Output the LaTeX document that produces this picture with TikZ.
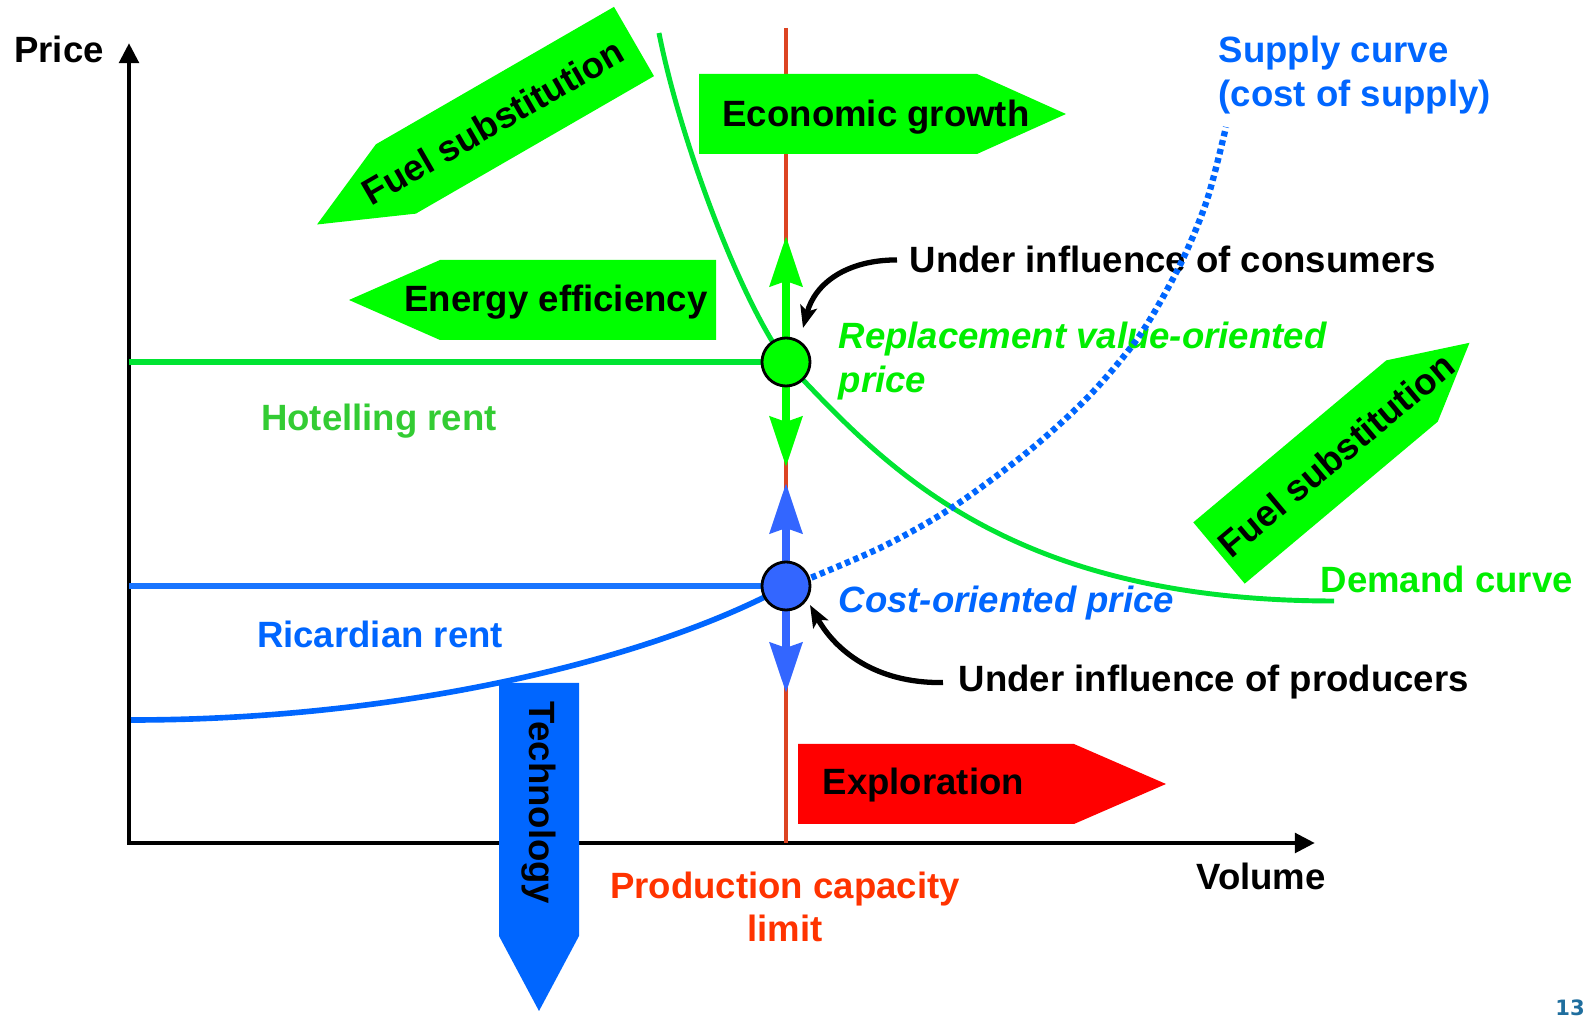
\documentclass[tikz,border=0pt]{standalone}
\usepackage{fontspec}
\setmainfont{Liberation Sans}
\newfontfamily\pagefont{DejaVu Sans}
\usepackage{xcolor}
\usetikzlibrary{arrows.meta}

\definecolor{arrowgreen}{RGB}{0,255,0}
\definecolor{curvegreen}{RGB}{0,228,50}
\definecolor{rentgreen}{RGB}{51,204,51}
\definecolor{labelgreen}{RGB}{0,238,0}
\definecolor{supplyblue}{RGB}{0,102,255}
\definecolor{pointblue}{RGB}{51,102,255}
\definecolor{limitred}{RGB}{220,68,34}
\definecolor{limittext}{RGB}{255,51,0}
\definecolor{pageblue}{RGB}{31,110,158}

\newcommand{\figfont}{\fontsize{10.4}{12.4}\selectfont\bfseries}
% block arrow: back centre, angle, body length, head length, colour
\newcommand{\blockarrow}[5]{%
  \fill[#5, shift={#1}, rotate=#2] (0,-40) -- (#3,-40) -- ({#3+#4},0) -- (#3,40) -- (0,40) -- cycle;}

\begin{document}
\begin{tikzpicture}[x=0.01cm, y=-0.01cm, font=\figfont]
            % Define styles
            \tikzstyle{lbl} = [inner sep=0pt]
            \tikzstyle{arrowtext} = [inner sep=0pt, text=black]
            \tikzstyle{point} = [draw=black, line width=0.8pt, circle, minimum size=0.48cm, inner sep=0pt]
            \tikzstyle{axis} = [line width=1.4pt, {Triangle[length=2mm, width=1.9mm]}-{Triangle[length=2mm, width=1.9mm]}]
            \tikzstyle{moveprice} = [line width=2.3pt, -{Stealth[length=5mm, width=3.2mm, inset=0.5mm]}]
            \tikzstyle{pointer} = [line width=1.5pt, -{Stealth[length=2.2mm, width=1.7mm, inset=0.5mm]}]

            \useasboundingbox (0,0) rectangle (1596,1016);

            % Axes
            \coordinate (ytop) at (129,43);
            \coordinate (origin) at (129,843);
            \coordinate (xend) at (1315,843);
            \draw [axis] (ytop) -- (origin) -- (xend);

            % Price points and capacity limit
            \coordinate (gpc) at (786,362);
            \coordinate (bpc) at (786,586);
            \coordinate (limtop) at (786,28);
            \draw [limitred, line width=1.4pt] (limtop) -- (786,843);
            \draw [curvegreen, line width=1.8pt] (129,362) -- (gpc);
            \draw [supplyblue!90!white, line width=1.8pt] (129,586) -- (bpc);

            % Block arrows
            \blockarrow{(634,41.5)}{210}{275}{91}{arrowgreen}
            \blockarrow{(699,114)}{0}{278}{89}{arrowgreen}
            \blockarrow{(716,300)}{180}{276}{91}{arrowgreen}
            \blockarrow{(1219,553)}{40}{252}{75}{arrowgreen}
            \blockarrow{(539,683)}{-90}{253}{75}{supplyblue}
            \blockarrow{(798,784)}{0}{276}{92}{red}

            % Texts in the block arrows
            \node [arrowtext, rotate=30] (subst1) at (493,122) {Fuel substitution};
            \node [arrowtext, anchor=base] (growth) at (876,127) {Economic growth};
            \node [arrowtext, anchor=base] (efficiency) at (556,312) {Energy efficiency};
            \node [arrowtext, rotate=40] (subst2) at (1336,455) {Fuel substitution};
            \node [arrowtext, rotate=-90] (tech) at (539,803) {Technology};
            \node [arrowtext, anchor=base west] (explore) at (822,795) {Exploration};

            % Labels
            \node [lbl, anchor=base] (price) at (59,63) {Price};
            \node [lbl, anchor=base] (volume) at (1261,890) {Volume};
            \node [lbl, anchor=west, align=left, text=supplyblue] (supply) at (1218,75) {Supply curve\\(cost of supply)};
            \node [lbl, anchor=base west] (cons) at (909,273) {Under influence of consumers};
            \node [lbl, anchor=base west] (prod) at (958,692) {Under influence of producers};
            \node [lbl, anchor=west, align=left, text=labelgreen, font=\figfont\itshape] (repl) at (838,361) {Replacement value-oriented\\price};
            \node [lbl, anchor=base west, text=supplyblue, font=\figfont\itshape] (cost) at (838,613) {Cost-oriented price};
            \node [lbl, anchor=base, text=rentgreen] (hotel) at (379,431) {Hotelling rent};
            \node [lbl, anchor=base, text=supplyblue] (ricardo) at (380,648) {Ricardian rent};
            \node [lbl, anchor=base west, text=labelgreen] (demand) at (1320,593) {Demand curve};
            \node [lbl, align=center, text=limittext] (limit) at (785,907) {Production capacity\\limit};
            \node [lbl, anchor=base, text=pageblue, font={\pagefont\fontsize{6}{7}\selectfont\bfseries}] (page) at (1570,1016) {13};

            % Demand and supply curves
            \draw [curvegreen, line width=1.4pt] (659,33) .. controls (680,140) and (740,300) .. (gpc)
                .. controls (880,460) and (1000,601) .. (1334,601);
            \draw [supplyblue, line width=1.6pt] (131,720) .. controls (400,720) and (650,660) .. (bpc);
            \draw [supplyblue, line width=1.8pt, dash pattern=on 1.5pt off 1.1pt] plot [smooth] coordinates {(786,588) (880,548) (953,507) (1030,450) (1090,395) (1140,335) (1180,265) (1207,200) (1226,127)};

            % Price movements
            \coordinate (gup) at (786,236);
            \coordinate (gdown) at (786,467);
            \coordinate (bup) at (786,483);
            \coordinate (bdown) at (786,693);
            \draw [moveprice, arrowgreen] (gpc) -- (gup);
            \draw [moveprice, arrowgreen] (gpc) -- (gdown);
            \draw [moveprice, pointblue] (bpc) -- (bup);
            \draw [moveprice, pointblue] (bpc) -- (bdown);

            \node [point, fill=arrowgreen] (gp) at (gpc) {};
            \node [point, fill=pointblue] (bp) at (bpc) {};

            % Influence pointers
            \coordinate (constip) at (803,328);
            \coordinate (prodtip) at (810,605);
            \draw [pointer] ([xshift=-0.12cm]cons.west) .. controls +(-50,0) and +(12,-45) .. (constip);
            \draw [pointer] ([xshift=-0.15cm]prod.west) .. controls +(-68,1) and +(25,45) .. (prodtip);
        \end{tikzpicture}
\end{document}
